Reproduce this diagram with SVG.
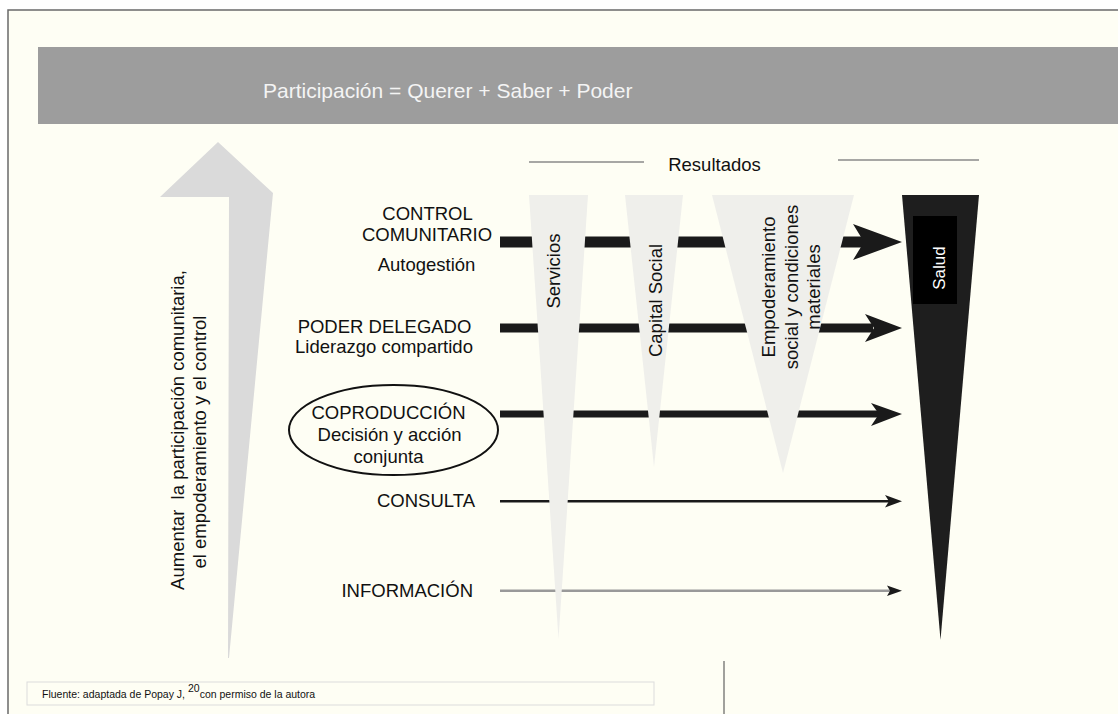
<svg xmlns="http://www.w3.org/2000/svg" width="1118" height="714" viewBox="0 0 1118 714">
  <style>
    text { font-family: "Liberation Sans", Arial, sans-serif; fill: #111; }
    .lbl { font-size: 18.5px; }
    .tri { fill: #efefeb; }
    .arrow { fill: #1a1a1a; }
  </style>
  <rect x="0" y="0" width="1118" height="714" fill="#ffffff"/>
  <rect id="frame" x="8" y="10" width="1120" height="720" fill="#fefef4" stroke="#6a6a6a" stroke-width="1.5"/>

  <g id="banner">
    <rect x="38" y="47" width="1080" height="77" fill="#9d9d9d"/>
    <text x="263" y="98" style="font-size:21px;fill:#f4f4f4">Participación = Querer + Saber + Poder</text>
  </g>

  <g id="increase-arrow">
    <polygon points="218,142 273,193 229,658 228,658 229,197 160,197" fill="#dadada"/>
    <text transform="translate(177,430) rotate(-90)" y="6.5" text-anchor="middle" style="font-size:18.5px">Aumentar&#160; la participación comunitaria,</text>
    <text transform="translate(199,442) rotate(-90)" y="6.5" text-anchor="middle" style="font-size:18.5px">el empoderamiento y el control</text>
  </g>

  <g id="resultados">
    <line x1="529" y1="162" x2="644" y2="162" stroke="#8a8a8a" stroke-width="1.5"/>
    <line x1="838" y1="160" x2="979" y2="160" stroke="#8a8a8a" stroke-width="1.5"/>
    <text class="lbl" x="714.5" y="171" text-anchor="middle">Resultados</text>
  </g>

  <g id="level-control">
    <text class="lbl" x="427.5" y="220" text-anchor="middle">CONTROL</text>
    <text class="lbl" x="427" y="241" text-anchor="middle">COMUNITARIO</text>
    <text class="lbl" x="426.5" y="271" text-anchor="middle">Autogestión</text>
  </g>
  <g id="level-poder">
    <text class="lbl" x="384.5" y="333" text-anchor="middle">PODER DELEGADO</text>
    <text class="lbl" x="384" y="353" text-anchor="middle">Liderazgo compartido</text>
  </g>
  <g id="level-coproduccion">
    <ellipse cx="393.5" cy="430" rx="104.5" ry="45" fill="none" stroke="#111" stroke-width="2"/>
    <text class="lbl" x="388.5" y="419" text-anchor="middle">COPRODUCCIÓN</text>
    <text class="lbl" x="389.5" y="441" text-anchor="middle">Decisión y acción</text>
    <text class="lbl" x="388.5" y="463" text-anchor="middle">conjunta</text>
  </g>
  <g id="level-consulta">
    <text class="lbl" x="475" y="507" text-anchor="end">CONSULTA</text>
  </g>
  <g id="level-informacion">
    <text class="lbl" x="473" y="597" text-anchor="end">INFORMACIÓN</text>
  </g>

  <g id="connectors">
    <rect class="arrow" x="500" y="236.5" width="366" height="11"/>
    <polygon class="arrow" points="902,242 853,224 864,242 853,260"/>
    <rect class="arrow" x="500" y="323.5" width="373" height="9"/>
    <polygon class="arrow" points="902,328 865,314 874,328 865,342"/>
    <rect class="arrow" x="500" y="410.5" width="380" height="7"/>
    <polygon class="arrow" points="902,414 871,403 879,414 871,426"/>
    <rect class="arrow" x="500" y="500" width="390" height="2.5"/>
    <polygon class="arrow" points="902,501.3 885,495 889,501.3 885,507.5"/>
    <rect x="500" y="589.5" width="390" height="2.5" fill="#999999"/>
    <polygon class="arrow" points="902,590.8 887,585.5 890,590.8 887,596"/>
  </g>

  <g id="servicios">
    <polygon class="tri" points="529,195 588,195 558.5,639"/>
    <text class="lbl" transform="translate(553,271) rotate(-90)" y="6.5" text-anchor="middle">Servicios</text>
  </g>
  <g id="capital-social">
    <polygon class="tri" points="625,195 683,195 654,467"/>
    <text class="lbl" transform="translate(655,300.5) rotate(-90)" y="6.5" text-anchor="middle">Capital Social</text>
  </g>
  <g id="empoderamiento">
    <polygon class="tri" points="712,195 854,195 783,473"/>
    <text class="lbl" transform="translate(768.5,287) rotate(-90)" y="6.5" text-anchor="middle">Empoderamiento</text>
    <text class="lbl" transform="translate(791,287) rotate(-90)" y="6.5" text-anchor="middle">social y condiciones</text>
    <text class="lbl" transform="translate(813,287) rotate(-90)" y="6.5" text-anchor="middle">materiales</text>
  </g>
  <g id="salud">
    <polygon points="902,195 979,195 940.5,640" fill="#1e1e1e"/>
    <rect x="913" y="216" width="44" height="88" fill="#000"/>
    <text transform="translate(939,268) rotate(-90)" y="6" text-anchor="middle" style="font-size:17px;fill:#ffffff">Salud</text>
  </g>

  <g id="footnote">
    <rect x="27" y="682" width="627" height="23" fill="none" stroke="#dcdcdc" stroke-width="1"/>
    <text x="42" y="698" style="font-size:10.5px">Fluente: adaptada de Popay J, <tspan dy="-6">20</tspan><tspan dy="6">con permiso de la autora</tspan></text>
  </g>
  <line x1="724" y1="661" x2="724" y2="714" stroke="#444" stroke-width="1"/>
</svg>
